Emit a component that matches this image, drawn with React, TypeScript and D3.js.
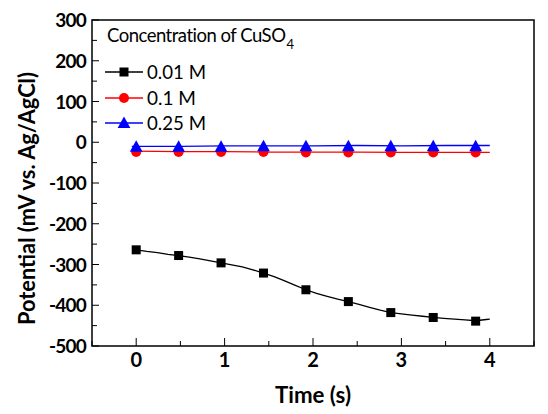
import React from "react";
import * as d3 from "d3";

// ---- data ----
const xTicks = [0, 1, 2, 3, 4];
const xMinorTicks = [-0.5, 0.5, 1.5, 2.5, 3.5, 4.5];
const yTicks = [300, 200, 100, 0, -100, -200, -300, -400, -500];
const yMinorTicks = [250, 150, 50, -50, -150, -250, -350, -450];

// 0.01 M trace (time s, potential mV)
const blackTime = [0, 0.12, 0.24, 0.36, 0.48, 0.6, 0.72, 0.84, 0.96, 1.08, 1.2, 1.32, 1.44, 1.56, 1.68, 1.8, 1.92, 2.04, 2.16, 2.28, 2.4, 2.52, 2.64, 2.76, 2.88, 3.0, 3.12, 3.24, 3.36, 3.48, 3.6, 3.72, 3.84, 3.96, 4.0];
const blackValue = [-264, -268, -271, -275, -278, -282, -286, -291, -296, -301, -306, -313, -321, -330, -340, -351, -362, -371, -378, -385, -391, -398, -405, -412, -418, -421, -424, -427, -430, -432, -434, -436, -438, -435, -434];

// 0.1 M trace
const redTime = [-0.05, 0.5, 1.0, 1.5, 2.0, 2.5, 3.0, 3.5, 4.0];
const redValue = [-22, -23, -23, -24, -24, -24, -25, -25, -25];

// 0.25 M trace
const blueTime = [-0.05, 0.5, 1.0, 1.5, 2.0, 2.5, 3.0, 3.5, 4.0];
const blueValue = [-10, -10, -9, -9, -9, -8, -9, -8, -8];

// marker positions
const markerTime = [0, 0.48, 0.96, 1.44, 1.92, 2.4, 2.88, 3.36, 3.84];
const blackMarker = [-264, -278, -296, -321, -362, -391, -418, -430, -439];
const redMarker = [-24, -24, -24, -24, -25, -25, -25, -25, -25];
const blueMarker = [-11, -11, -11, -10, -10, -10, -10, -10, -10];

const legendTitle = "Concentration of CuSO";
const legendSub = "4";
const seriesNames = ["0.01 M", "0.1 M", "0.25 M"];
const seriesColors = ["#000000", "#ff0000", "#0000ff"];
const xTitle = "Time (s)";
const yTitle = "Potential (mV vs. Ag/AgCl)";

const FONT = "Lato, 'Open Sans', sans-serif";

export default function App() {
  const left = 92, right = 534, top = 20, bottom = 346;
  const x = d3.scaleLinear().domain([-0.5, 4.5]).range([left, right]);
  const y = d3.scaleLinear().domain([-500, 300]).range([bottom, top]);
  const line = d3.line<[number, number]>().x(d => x(d[0])).y(d => y(d[1]));

  const zip = (a: number[], b: number[]) => a.map((t, i) => [t, b[i]] as [number, number]);
  const sq = 9;
  const tri = (cx: number, cy: number, s: number) =>
    `M${cx},${cy - s * 0.6}L${cx + s * 0.58},${cy + s * 0.45}L${cx - s * 0.58},${cy + s * 0.45}Z`;

  const marker = (i: number, cx: number, cy: number, key: string) => {
    if (i === 0) return <rect key={key} x={cx - sq / 2} y={cy - sq / 2} width={sq} height={sq} fill={seriesColors[0]} />;
    if (i === 1) return <circle key={key} cx={cx} cy={cy} r={5} fill={seriesColors[1]} />;
    return <path key={key} d={tri(cx, cy, 11)} fill={seriesColors[2]} />;
  };

  const legendY = [72, 98, 123];
  const legendW = [59, 49, 59];

  return (
    <div style={{ position: "absolute", left: 0, top: 0 }}>
      <svg width={548} height={414} style={{ display: "block", background: "#fff" }}>
        {/* series lines */}
        <path d={line(zip(redTime, redValue)) || ""} fill="none" stroke={seriesColors[1]} strokeWidth={1.3} />
        <path d={line(zip(blueTime, blueValue)) || ""} fill="none" stroke={seriesColors[2]} strokeWidth={1.3} />
        <path d={line(zip(blackTime, blackValue)) || ""} fill="none" stroke={seriesColors[0]} strokeWidth={1.3} />
        {markerTime.map((t, i) => marker(1, x(t), y(redMarker[i]), "r" + i))}
        {markerTime.map((t, i) => marker(2, x(t), y(blueMarker[i]), "b" + i))}
        {markerTime.map((t, i) => marker(0, x(t), y(blackMarker[i]), "k" + i))}

        {/* frame */}
        <rect x={left} y={top} width={right - left} height={bottom - top} fill="none" stroke="#000" strokeWidth={1.5} />

        {/* x ticks */}
        {xTicks.map(t => (
          <g key={"xt" + t}>
            <line x1={x(t)} x2={x(t)} y1={bottom} y2={bottom - 8} stroke="#000" strokeWidth={1} />
            <text x={x(t)} y={367} textAnchor="middle" fontFamily={FONT} fontWeight={700} fontSize={20}>{t}</text>
          </g>
        ))}
        {xMinorTicks.map(t => (
          <line key={"xm" + t} x1={x(t)} x2={x(t)} y1={bottom} y2={bottom - 5} stroke="#000" strokeWidth={1} />
        ))}
        {/* y ticks */}
        {yTicks.map(v => (
          <g key={"yt" + v}>
            <line x1={left} x2={left + 7} y1={y(v)} y2={y(v)} stroke="#000" strokeWidth={1} />
            <text x={86} y={y(v) + 7} textAnchor="end" fontFamily={FONT} fontWeight={700} fontSize={19} letterSpacing={-0.8}>{v}</text>
          </g>
        ))}
        {yMinorTicks.map(v => (
          <line key={"ym" + v} x1={left} x2={left + 5} y1={y(v)} y2={y(v)} stroke="#000" strokeWidth={1} />
        ))}

        {/* axis titles */}
        <text x={275} y={403} fontFamily={FONT} fontWeight={700} fontSize={22} textLength={76} lengthAdjust="spacingAndGlyphs">{xTitle}</text>
        <text transform="translate(35,325) rotate(-90)" fontFamily={FONT} fontWeight={700} fontSize={22} textLength={253} lengthAdjust="spacingAndGlyphs">{yTitle}</text>

        {/* legend */}
        <text x={107} y={42} fontFamily={FONT} fontSize={18.5} letterSpacing={-0.5}>
          {legendTitle}
          <tspan fontSize={13} dy={7} dx={1}>{legendSub}</tspan>
        </text>
        {seriesNames.map((n, i) => (
          <g key={"lg" + i}>
            <line x1={105} x2={143} y1={legendY[i]} y2={legendY[i]} stroke={seriesColors[i]} strokeWidth={1.3} />
            {marker(i, 124, legendY[i], "lm" + i)}
            <text x={147} y={legendY[i] + 7} fontFamily={FONT} fontSize={19.5} textLength={legendW[i]} lengthAdjust="spacingAndGlyphs">{n}</text>
          </g>
        ))}
      </svg>
    </div>
  );
}
